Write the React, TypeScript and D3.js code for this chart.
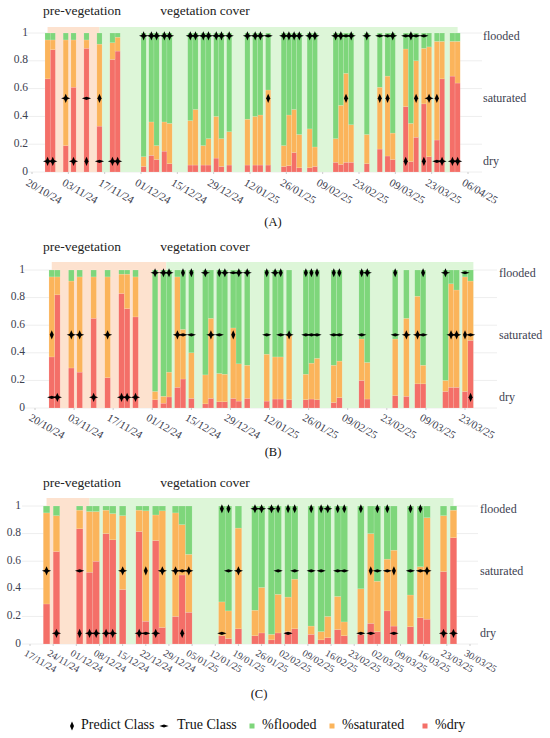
import * as d3 from 'd3';

type Cls = 'd' | 's' | 'f';

const parse = d3.utcParse('%d/%m/%y');

// ---------- panel A ----------
const datesA = [
  '26/10/24', '28/10/24', '02/11/24', '05/11/24', '10/11/24', '15/11/24', '20/11/24', '22/11/24',
  '02/12/24', '05/12/24', '07/12/24', '10/12/24', '12/12/24',
  '20/12/24', '22/12/24', '25/12/24', '27/12/24', '30/12/24', '01/01/25', '04/01/25',
  '11/01/25', '14/01/25', '16/01/25', '19/01/25',
  '25/01/25', '27/01/25', '29/01/25', '31/01/25', '04/02/25', '06/02/25',
  '14/02/25', '16/02/25', '18/02/25', '20/02/25', '26/02/25',
  '03/03/25', '06/03/25', '08/03/25', '13/03/25', '15/03/25', '17/03/25', '20/03/25',
  '22/03/25', '25/03/25', '27/03/25', '31/03/25', '02/04/25',
];
const dryA = [
  0.67, 0.88, 0.19, 0.61, 0.89, 0.33, 0.81, 0.87,
  0.04, 0.12, 0.09, 0.15, 0.06,
  0.05, 0.05, 0.05, 0.05, 0.1, 0.04, 0.05,
  0.05, 0.05, 0.05, 0.05,
  0.04, 0.045, 0.14, 0.03, 0.03, 0.04,
  0.07, 0.055, 0.07, 0.07, 0.06,
  0.165, 0.115, 0.09, 0.47, 0.075, 0.25, 0.49,
  0.11, 0.23, 0.67, 0.69, 0.64,
];
const satA = [
  0.28, 0.07, 0.76, 0.34, 0.06, 0.59, 0.12, 0.1,
  0.07, 0.24, 0.1, 0.21, 0.29,
  0.32, 0.4, 0.14, 0.19, 0.3, 0.2, 0.24,
  0.33, 0.35, 0.36, 0.54,
  0.15, 0.365, 0.31, 0.24, 0.28, 0.14,
  0.17, 0.425, 0.64, 0.27, 0.21,
  0.445, 0.575, 0.19, 0.415, 0.275, 0.55, 0.4,
  0.79, 0.71, 0.27, 0.25, 0.3,
];
const floodA = [
  0.05, 0.05, 0.05, 0.05, 0.05, 0.08, 0.07, 0.03,
  0.89, 0.64, 0.81, 0.64, 0.65,
  0.63, 0.55, 0.81, 0.76, 0.6, 0.76, 0.71,
  0.62, 0.6, 0.59, 0.41,
  0.81, 0.59, 0.55, 0.73, 0.69, 0.82,
  0.76, 0.52, 0.29, 0.66, 0.73,
  0.39, 0.31, 0.72, 0.115, 0.65, 0.2, 0.11,
  0.1, 0.06, 0.06, 0.06, 0.06,
];
const predA: Cls[] = [
  'd', 'd', 's', 'd', 'd', 's', 'd', 'd',
  'f', 'f', 'f', 'f', 'f',
  'f', 'f', 'f', 'f', 'f', 'f', 'f',
  'f', 'f', 'f', 's',
  'f', 'f', 'f', 'f', 'f', 'f',
  'f', 'f', 's', 'f', 'f',
  's', 's', 'f', 'd', 'f', 's', 'd',
  's', 's', 'd', 'd', 'd',
];
const trueA: Cls[] = [
  'd', 'd', 's', 'd', 's', 'd', 'd', 'd',
  'f', 'f', 'f', 'f', 'f',
  'f', 'f', 'f', 'f', 'f', 'f', 'f',
  'f', 'f', 'f', 'f',
  'f', 'f', 'f', 'f', 'f', 'f',
  'f', 'f', 'f', 'f', 'f',
  'f', 'f', 'f', 'f', 'f', 'f', 'f',
  's', 'd', 'd', 'd', 'd',
];
const ticksA = [
  '20/10/24', '03/11/24', '17/11/24', '01/12/24', '15/12/24', '29/12/24', '12/01/25',
  '26/01/25', '09/02/25', '23/02/25', '09/03/25', '23/03/25', '06/04/25',
];
const preA = ['26/10/24', '15/11/24'];
const vegA = ['15/11/24', '02/04/25'];

// ---------- panel B ----------
const datesB = [
  '26/10/24', '28/10/24', '02/11/24', '05/11/24', '10/11/24', '15/11/24', '20/11/24', '22/11/24', '25/11/24',
  '02/12/24', '05/12/24', '07/12/24', '10/12/24', '12/12/24', '15/12/24',
  '20/12/24', '22/12/24', '25/12/24', '27/12/24', '30/12/24', '01/01/25', '04/01/25',
  '11/01/25', '14/01/25', '16/01/25', '19/01/25',
  '25/01/25', '27/01/25', '29/01/25', '04/02/25', '06/02/25',
  '14/02/25', '16/02/25',
  '26/02/25', '02/03/25', '06/03/25', '08/03/25',
  '16/03/25', '18/03/25', '20/03/25', '23/03/25', '25/03/25',
];
const dryB = [
  0.37, 0.82, 0.29, 0.26, 0.65, 0.22, 0.83, 0.72, 0.66,
  0.06, 0.035, 0.08, 0.15, 0.21, 0.07,
  0.03, 0.07, 0.045, 0.045, 0.07, 0.05, 0.07,
  0.05, 0.065, 0.065, 0.06,
  0.06, 0.065, 0.06, 0.04, 0.075,
  0.2, 0.065,
  0.09, 0.085, 0.175, 0.175,
  0.12, 0.15, 0.15, 0.12, 0.49,
];
const satB = [
  0.58, 0.13, 0.63, 0.69, 0.3, 0.73, 0.14, 0.25, 0.29,
  0.06, 0.05, 0.18, 0.8, 0.36, 0.33,
  0.21, 0.58, 0.205, 0.2, 0.51, 0.27, 0.24,
  0.34, 0.305, 0.305, 0.475,
  0.185, 0.26, 0.3, 0.27, 0.265,
  0.3, 0.265,
  0.41, 0.565, 0.635, 0.135,
  0.08, 0.75, 0.705, 0.83, 0.43,
];
const floodB = [
  0.05, 0.05, 0.08, 0.05, 0.05, 0.05, 0.03, 0.03, 0.05,
  0.88, 0.915, 0.74, 0.05, 0.43, 0.6,
  0.76, 0.35, 0.75, 0.755, 0.42, 0.68, 0.69,
  0.61, 0.63, 0.63, 0.465,
  0.755, 0.675, 0.64, 0.69, 0.66,
  0.5, 0.67,
  0.5, 0.35, 0.19, 0.69,
  0.8, 0.1, 0.145, 0.05, 0.08,
];
const predB: Cls[] = [
  's', 'd', 's', 's', 'd', 's', 'd', 'd', 'd',
  'f', 'f', 'f', 's', 'f', 'f',
  'f', 's', 'f', 'f', 's', 'f', 'f',
  'f', 'f', 'f', 's',
  'f', 'f', 'f', 'f', 'f',
  'f', 'f',
  'f', 's', 's', 'f',
  'f', 's', 's', 's', 'd',
];
const trueB: Cls[] = [
  'd', 'd', 's', 's', 'd', 's', 'd', 'd', 'd',
  'f', 'f', 'f', 's', 's', 's',
  'f', 's', 's', 'f', 'f', 'f', 'f',
  's', 'f', 's', 's',
  's', 's', 's', 's', 's',
  's', 'f',
  's', 's', 's', 's',
  'f', 's', 's', 'f', 's',
];
const ticksB = [
  '20/10/24', '03/11/24', '17/11/24', '01/12/24', '15/12/24', '29/12/24', '12/01/25',
  '26/01/25', '09/02/25', '23/02/25', '09/03/25', '23/03/25',
];
const preB = ['26/10/24', '06/12/24'];
const vegB = ['06/12/24', '26/03/25'];

// ---------- panel C ----------
const datesC = [
  '22/11/24', '25/11/24', '02/12/24', '05/12/24', '07/12/24', '10/12/24', '12/12/24', '15/12/24',
  '20/12/24', '22/12/24', '25/12/24', '27/12/24', '31/12/24', '02/01/25', '04/01/25',
  '14/01/25', '16/01/25', '19/01/25',
  '24/01/25', '26/01/25', '29/01/25', '31/01/25', '03/02/25', '05/02/25',
  '10/02/25', '13/02/25', '15/02/25', '18/02/25', '20/02/25',
  '25/02/25', '28/02/25', '02/03/25', '05/03/25', '07/03/25',
  '12/03/25', '15/03/25', '17/03/25', '22/03/25', '25/03/25',
];
const dryC = [
  0.29, 0.67, 0.835, 0.52, 0.6, 0.8, 0.755, 0.395,
  0.815, 0.165, 0.75, 0.12, 0.2, 0.5, 0.23,
  0.06, 0.04, 0.11,
  0.06, 0.08, 0.03, 0.08, 0.09, 0.11,
  0.07, 0.03, 0.045, 0.105, 0.06,
  0.07, 0.15, 0.09, 0.24, 0.13,
  0.125, 0.19, 0.18, 0.525, 0.77,
];
const satC = [
  0.66, 0.26, 0.135, 0.44, 0.36, 0.17, 0.19, 0.535,
  0.155, 0.8, 0.185, 0.845, 0.75, 0.365, 0.42,
  0.245, 0.2, 0.73,
  0.185, 0.33, 0.04, 0.28, 0.25, 0.36,
  0.06, 0.06, 0.155, 0.24, 0.1,
  0.33, 0.65, 0.365, 0.375, 0.55,
  0.23, 0.37, 0.735, 0.405, 0.2,
];
const floodC = [
  0.05, 0.07, 0.03, 0.04, 0.04, 0.03, 0.055, 0.07,
  0.03, 0.035, 0.065, 0.035, 0.05, 0.135, 0.35,
  0.695, 0.76, 0.16,
  0.755, 0.59, 0.93, 0.64, 0.66, 0.53,
  0.87, 0.91, 0.8, 0.655, 0.84,
  0.6, 0.2, 0.545, 0.385, 0.32,
  0.645, 0.44, 0.085, 0.07, 0.03,
];
const predC: Cls[] = [
  's', 'd', 'd', 'd', 'd', 'd', 'd', 's',
  'd', 's', 'd', 's', 's', 'd', 's',
  'f', 'f', 's',
  'f', 'f', 'f', 'f', 'f', 'f',
  'f', 'f', 'f', 'f', 'f',
  'f', 's', 'f', 'f', 's',
  'f', 'f', 's', 'd', 'd',
];
const trueC: Cls[] = [
  's', 'd', 's', 'd', 'd', 'd', 'd', 's',
  'd', 'd', 'd', 's', 's', 's', 's',
  'd', 's', 's',
  'f', 'f', 'f', 's', 'd', 's',
  's', 's', 'f', 's', 's',
  'd', 'd', 's', 's', 'd',
  's', 's', 's', 'd', 'd',
];
const ticksC = [
  '17/11/24', '24/11/24', '01/12/24', '08/12/24', '15/12/24', '22/12/24', '29/12/24',
  '05/01/25', '12/01/25', '19/01/25', '26/01/25', '02/02/25', '09/02/25', '16/02/25',
  '23/02/25', '02/03/25', '09/03/25', '16/03/25', '23/03/25', '30/03/25',
];
const preC = ['22/11/24', '05/12/24'];
const vegC = ['05/12/24', '25/03/25'];

// shared
const yTicks = [0, 0.2, 0.4, 0.6, 0.8, 1];
const classLevel: Record<Cls, number> = { d: 0.077, s: 0.53, f: 0.98 };
const classNames: [Cls, string][] = [['f', 'flooded'], ['s', 'saturated'], ['d', 'dry']];
const keys = ['dry', 'sat', 'flood'] as const;
const colors: Record<string, string> = { dry: '#f46f68', sat: '#fbb45b', flood: '#7ed67b' };

const FONT = "'Liberation Serif', 'Times New Roman', serif";
const TXT = '#3d4150';

const PRED_PATH = 'M0,-4.6L2,0L0,4.6L-2,0Z';
const TRUE_PATH = 'M-4.6,0L0,-1.6L4.6,0L0,1.6Z';

type Layout = {
  t0: number; t1: number; y0: number; y1: number; bandTop: number; titleY: number;
  labY: number; labSize: number; capX: number; capY: number; cap: string;
  yLabX: number; g0: number; g1: number; rx: number;
};

type PanelProps = {
  dates: string[]; dry: number[]; sat: number[]; flood: number[];
  pred: Cls[]; truth: Cls[]; ticks: string[]; pre: string[]; veg: string[]; L: Layout;
};

function Panel({ dates, dry, sat, flood, pred, truth, ticks, pre, veg, L }: PanelProps) {
  const x = d3.scaleUtc()
    .domain([parse(ticks[0])!, parse(ticks[ticks.length - 1])!])
    .range([L.t0, L.t1]);
  const y = d3.scaleLinear().domain([0, 1]).range([L.y0, L.y1]);

  const rows = dates.map((d, i) => ({ date: parse(d)!, dry: dry[i], sat: sat[i], flood: flood[i] }));
  const series = d3.stack<any>().keys(keys as unknown as string[])(rows);
  const bw = (d: Date) => x(d3.utcDay.offset(d, 2)) - x(d);

  return (
    <g>
      {yTicks.map((t) => (
        <line key={t} x1={L.g0} x2={L.g1} y1={y(t)} y2={y(t)} stroke="#eeeeee" strokeWidth={1} />
      ))}
      <rect x={x(parse(pre[0])!)} width={x(parse(pre[1])!) - x(parse(pre[0])!)}
        y={L.bandTop} height={L.y0 - L.bandTop} fill="#fde2cf" />
      <rect x={x(parse(veg[0])!)} width={x(parse(veg[1])!) - x(parse(veg[0])!)}
        y={L.bandTop} height={L.y0 - L.bandTop} fill="#ddf6d8" />
      <text x={82} y={L.titleY} textAnchor="middle" dominantBaseline="middle" fontSize={13.5} fill="#222">pre-vegetation</text>
      <text x={205} y={L.titleY} textAnchor="middle" dominantBaseline="middle" fontSize={13.5} fill="#222">vegetation cover</text>

      {series.map((s) => (
        <g key={s.key} fill={colors[s.key]}>
          {s.map((d, i) => {
            const w = bw(d.data.date);
            return (
              <rect key={i} x={x(d.data.date) - w / 2} width={w} y={y(d[1])}
                height={y(d[0]) - y(d[1])} stroke="#ffffff" strokeOpacity={0.35} strokeWidth={0.4} />
            );
          })}
        </g>
      ))}

      {rows.map((r, i) => (
        <g key={i} fill="#000">
          <path d={TRUE_PATH} transform={`translate(${x(r.date)},${y(classLevel[truth[i]])})`} />
          <path d={PRED_PATH} transform={`translate(${x(r.date)},${y(classLevel[pred[i]])})`} />
        </g>
      ))}

      {yTicks.map((t) => (
        <text key={t} x={L.yLabX} y={y(t)} textAnchor="end" dominantBaseline="middle" fontSize={11.5} fill={TXT}>
          {d3.format('~g')(t)}
        </text>
      ))}
      {classNames.map(([c, n]) => (
        <text key={c} x={L.rx} y={y(classLevel[c]) + 1} dominantBaseline="middle" fontSize={12} fill={TXT}>{n}</text>
      ))}

      {ticks.map((t) => {
        const px = x(parse(t)!);
        return (
          <g key={t}>
            <line x1={px} x2={px} y1={L.y0} y2={L.y0 + 2} stroke="#cccccc" />
            <text transform={`translate(${px - 3},${L.labY}) rotate(30)`} dy="0.7em"
              fontSize={L.labSize} fill={TXT}>{t}</text>
          </g>
        );
      })}
      <text x={L.capX} y={L.capY} textAnchor="middle" dominantBaseline="middle" fontSize={12.5} fill="#111">{L.cap}</text>
    </g>
  );
}

const layoutA: Layout = {
  t0: 32, t1: 468, y0: 172, y1: 33, bandTop: 27, titleY: 12, labY: 178, labSize: 11,
  capX: 273, capY: 223, cap: '(A)', yLabX: 28, g0: 26, g1: 482, rx: 483,
};
const layoutB: Layout = {
  t0: 35, t1: 465, y0: 408, y1: 270, bandTop: 262, titleY: 248, labY: 413, labSize: 11,
  capX: 273, capY: 453, cap: '(B)', yLabX: 25, g0: 24, g1: 497, rx: 499,
};
const layoutC: Layout = {
  t0: 30, t1: 470, y0: 644, y1: 506, bandTop: 498, titleY: 484, labY: 649, labSize: 10,
  capX: 259, capY: 695, cap: '(C)', yLabX: 21, g0: 22, g1: 478, rx: 480,
};

const legendItems = [
  { kind: 'pred', mx: 72, tx: 81, label: 'Predict Class' },
  { kind: 'true', mx: 164, tx: 177, label: 'True Class' },
  { kind: 'flood', mx: 252, tx: 262, label: '%flooded' },
  { kind: 'sat', mx: 332, tx: 342, label: '%saturated' },
  { kind: 'dry', mx: 425, tx: 435, label: '%dry' },
];

export default function App() {
  return (
    <svg width={550} height={738} style={{ position: 'absolute', left: 0, top: 0, background: '#fff' }}
      fontFamily={FONT}>
      <Panel dates={datesA} dry={dryA} sat={satA} flood={floodA} pred={predA} truth={trueA}
        ticks={ticksA} pre={preA} veg={vegA} L={layoutA} />
      <Panel dates={datesB} dry={dryB} sat={satB} flood={floodB} pred={predB} truth={trueB}
        ticks={ticksB} pre={preB} veg={vegB} L={layoutB} />
      <Panel dates={datesC} dry={dryC} sat={satC} flood={floodC} pred={predC} truth={trueC}
        ticks={ticksC} pre={preC} veg={vegC} L={layoutC} />
      <g>
        {legendItems.map((it) => (
          <g key={it.label}>
            {it.kind === 'pred' && <path d={PRED_PATH} transform={`translate(${it.mx},726)`} fill="#000" />}
            {it.kind === 'true' && <path d={TRUE_PATH} transform={`translate(${it.mx},726)`} fill="#000" />}
            {colors[it.kind] && <rect x={it.mx - 2.5} y={723.5} width={5} height={5} fill={colors[it.kind]} />}
            <text x={it.tx} y={726} dominantBaseline="middle" fontSize={14} fill="#111">{it.label}</text>
          </g>
        ))}
      </g>
    </svg>
  );
}
